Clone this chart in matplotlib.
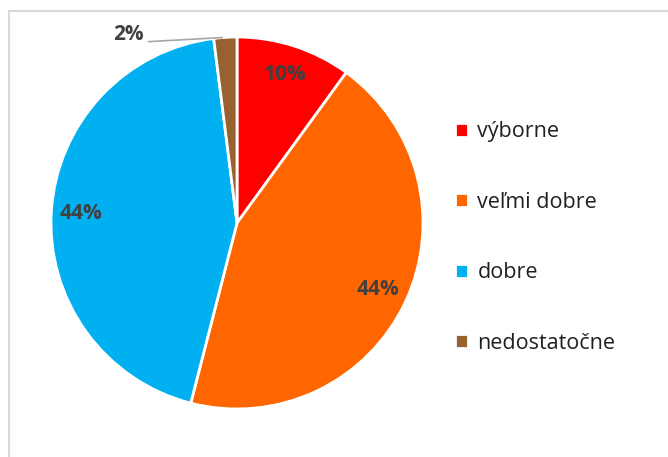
import numpy as np
import matplotlib
matplotlib.use("Agg")
import matplotlib.pyplot as plt
from matplotlib.patches import Rectangle

# data
labels = ["výborne", "veľmi dobre", "dobre", "nedostatočne"]
values = [10, 44, 44, 2]
colors = ["#FF0000", "#FF6600", "#00B0F0", "#97622F"]

plt.rcParams['font.family'] = ['Open Sans', 'DejaVu Sans']

W, H = 668, 457
fig = plt.figure(figsize=(W / 100, H / 100), dpi=100)

# light grey chart frame (cut at right/bottom like the screenshot)
fig.patches.append(Rectangle((9 / W, -0.1), 1.2, (H - 11) / H + 0.1,
                             transform=fig.transFigure, fill=False,
                             edgecolor="#D9D9D9", linewidth=1.5))

cx, cy, r = 237, 223, 186
ax = fig.add_axes([(cx - r) / W, (H - cy - r) / H, 2 * r / W, 2 * r / H])

wedges, texts, autotexts = ax.pie(
    values, colors=colors, startangle=90, counterclock=False,
    autopct="%1.0f%%", pctdistance=0.84,
    wedgeprops=dict(edgecolor="white", linewidth=2),
    textprops=dict(color="#404040", fontsize=15, fontweight="bold"))
ax.set_xlim(-1, 1)
ax.set_ylim(-1, 1)
ax.set_aspect("equal")
ax.axis("off")

# small slice label pulled outside with a leader line
autotexts[3].set_position((-0.585, 1.015))
ax.plot([-0.475, -0.08], [0.975, 0.997], color="#A6A6A6", linewidth=1.2,
        clip_on=False)

leg = fig.legend(wedges, labels, loc="upper left",
                 bbox_to_anchor=(444 / W, (H - 110.5) / H),
                 frameon=False, fontsize=15.5, labelspacing=2.3,
                 handlelength=0.6, handleheight=0.6, handletextpad=0.45,
                 borderpad=0)
for t in leg.get_texts():
    t.set_color("#202020")

fig.savefig("out.png", dpi=100)
